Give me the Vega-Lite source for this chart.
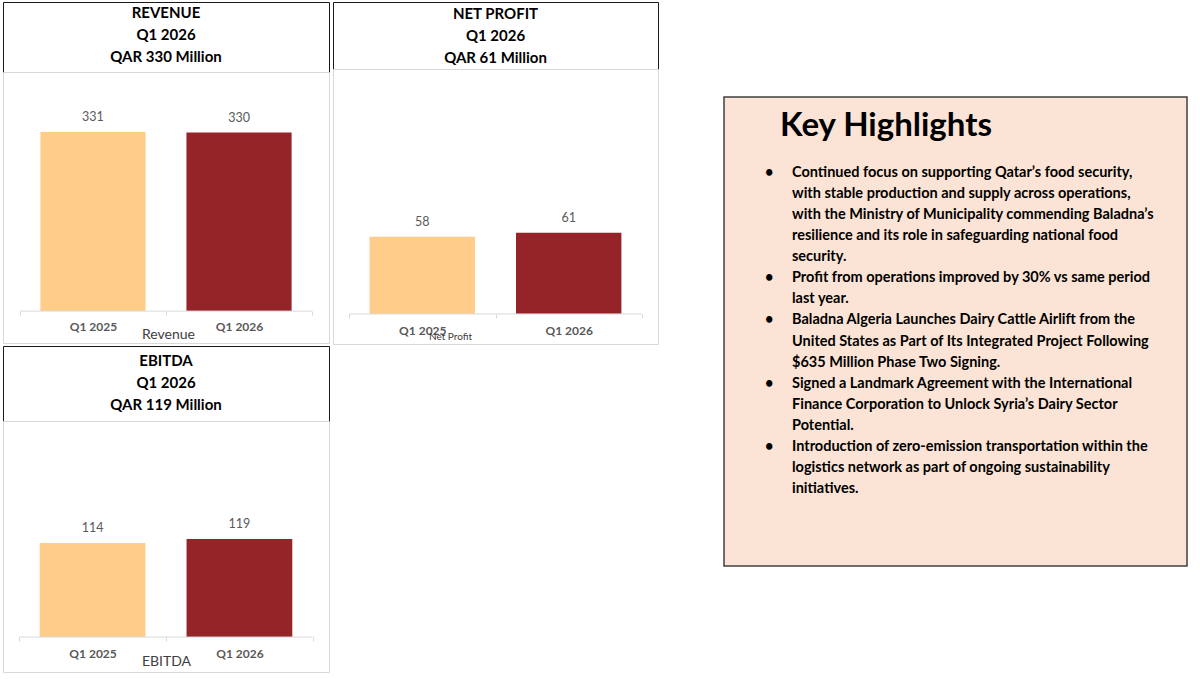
{
  "$schema": "https://vega.github.io/schema/vega-lite/v6.json",
  "padding": {"left": 2, "top": 1, "right": 2, "bottom": 2},
  "config": {"font": "Lato", "view": {"stroke": null}},
  "datasets": {
    "revenue": [{"period": "Q1 2025", "value": 331}, {"period": "Q1 2026", "value": 330}],
    "netprofit": [{"period": "Q1 2025", "value": 58}, {"period": "Q1 2026", "value": 61}],
    "ebitda": [{"period": "Q1 2025", "value": 114}, {"period": "Q1 2026", "value": 119}],
    "highlights": [
      {"line": 0, "part": "bullet", "text": "•"},
      {"line": 5, "part": "bullet", "text": "•"},
      {"line": 7, "part": "bullet", "text": "•"},
      {"line": 10, "part": "bullet", "text": "•"},
      {"line": 13, "part": "bullet", "text": "•"},
      {"line": 0, "part": "text", "text": "Continued focus on supporting Qatar’s food security,"},
      {"line": 1, "part": "text", "text": "with stable production and supply across operations,"},
      {"line": 2, "part": "text", "text": "with the Ministry of Municipality commending Baladna’s"},
      {"line": 3, "part": "text", "text": "resilience and its role in safeguarding national food"},
      {"line": 4, "part": "text", "text": "security."},
      {"line": 5, "part": "text", "text": "Profit from operations improved by 30% vs same period"},
      {"line": 6, "part": "text", "text": "last year."},
      {"line": 7, "part": "text", "text": "Baladna Algeria Launches Dairy Cattle Airlift from the"},
      {"line": 8, "part": "text", "text": "United States as Part of Its Integrated Project Following"},
      {"line": 9, "part": "text", "text": "$635 Million Phase Two Signing."},
      {"line": 10, "part": "text", "text": "Signed a Landmark Agreement with the International"},
      {"line": 11, "part": "text", "text": "Finance Corporation to Unlock Syria’s Dairy Sector"},
      {"line": 12, "part": "text", "text": "Potential."},
      {"line": 13, "part": "text", "text": "Introduction of zero-emission transportation within the"},
      {"line": 14, "part": "text", "text": "logistics network as part of ongoing sustainability"},
      {"line": 15, "part": "text", "text": "initiatives."}
    ]
  },
  "spacing": 64,
  "hconcat": [
    {
      "spacing": 0,
      "vconcat": [
        {
          "spacing": 2,
          "hconcat": [
            {
              "spacing": 0,
              "bounds": "flush",
              "vconcat": [
                {
                  "width": 326, "height": 70,
                  "view": {"stroke": "#1a1a1a", "strokeWidth": 1},
                  "data": {"values": [{"lines": ["REVENUE", "Q1 2026", "QAR 330 Million"]}]},
                  "mark": {"type": "text", "font": "Lato", "fontSize": 15, "fontWeight": "bold", "color": "#000000", "lineHeight": 22, "baseline": "middle", "align": "center", "dy": -24},
                  "encoding": {"text": {"field": "lines"}}
                },
                {
                  "width": 326, "height": 271,
                  "view": {"stroke": "#D9D9D9"},
                  "data": {"name": "revenue"},
                  "layer": [
                    {
                      "mark": {"type": "bar", "width": {"band": 0.72}},
                      "encoding": {
                        "x": {"field": "period", "type": "nominal", "scale": {"paddingInner": 0, "paddingOuter": 0.116},
                          "axis": {"title": "Revenue", "orient": "bottom", "offset": -32, "domain": false, "tickColor": "#D9D9D9", "tickSize": 4, "tickBand": "extent", "labelAngle": 0, "labelFont": "Lato", "labelFontSize": 12, "labelFontWeight": "bold", "labelColor": "#595959", "labelPadding": 6, "titleFont": "Lato", "titleFontSize": 14, "titleFontWeight": "normal", "titleColor": "#404040", "titleBaseline": "middle", "titleY": 23, "titleX": 165}},
                        "y": {"field": "value", "type": "quantitative", "scale": {"domain": [-59, 442], "nice": false, "zero": false}, "axis": null},
                        "y2": {"datum": 0},
                        "color": {"field": "period", "type": "nominal", "scale": {"domain": ["Q1 2025", "Q1 2026"], "range": ["#FFCC89", "#952429"]}, "legend": null}
                      }
                    },
                    {
                      "mark": {"type": "text", "dy": -15, "fontSize": 12.5, "color": "#595959", "baseline": "middle", "font": "Lato"},
                      "encoding": {
                        "x": {"field": "period", "type": "nominal"},
                        "y": {"field": "value", "type": "quantitative"},
                        "text": {"field": "value", "type": "quantitative"}
                      }
                    },
                    {
                      "data": {"values": [{}]},
                      "mark": {"type": "rule", "color": "#D9D9D9", "strokeWidth": 1},
                      "encoding": {
                        "x": {"datum": "Q1 2025", "bandPosition": 0},
                        "x2": {"datum": "Q1 2026", "bandPosition": 1},
                        "y": {"datum": 0, "type": "quantitative"}
                      }
                    }
                  ]
                }
              ]
            },
            {
              "spacing": 0,
              "bounds": "flush",
              "vconcat": [
                {
                  "width": 325, "height": 67,
                  "view": {"stroke": "#1a1a1a", "strokeWidth": 1},
                  "data": {"values": [{"lines": ["NET PROFIT", "Q1 2026", "QAR 61 Million"]}]},
                  "mark": {"type": "text", "font": "Lato", "fontSize": 15, "fontWeight": "bold", "color": "#000000", "lineHeight": 22, "baseline": "middle", "align": "center", "dy": -22},
                  "encoding": {"text": {"field": "lines"}}
                },
                {
                  "width": 325, "height": 275,
                  "view": {"stroke": "#D9D9D9"},
                  "data": {"name": "netprofit"},
                  "layer": [
                    {
                      "mark": {"type": "bar", "width": {"band": 0.72}},
                      "encoding": {
                        "x": {"field": "period", "type": "nominal", "scale": {"paddingInner": 0, "paddingOuter": 0.11},
                          "axis": {"title": "Net Profit", "orient": "bottom", "offset": -30, "domain": false, "tickColor": "#D9D9D9", "tickSize": 4, "tickBand": "extent", "labelAngle": 0, "labelFont": "Lato", "labelFontSize": 12, "labelFontWeight": "bold", "labelColor": "#595959", "labelPadding": 7, "titleFont": "Lato", "titleFontSize": 10, "titleFontWeight": "normal", "titleColor": "#404040", "titleBaseline": "middle", "titleY": 22, "titleX": 117}},
                        "y": {"field": "value", "type": "quantitative", "scale": {"domain": [-22.6, 184.2], "nice": false, "zero": false}, "axis": null},
                        "y2": {"datum": 0},
                        "color": {"field": "period", "type": "nominal", "scale": {"domain": ["Q1 2025", "Q1 2026"], "range": ["#FFCC89", "#952429"]}, "legend": null}
                      }
                    },
                    {
                      "mark": {"type": "text", "dy": -15, "fontSize": 12.5, "color": "#595959", "baseline": "middle", "font": "Lato"},
                      "encoding": {
                        "x": {"field": "period", "type": "nominal"},
                        "y": {"field": "value", "type": "quantitative"},
                        "text": {"field": "value", "type": "quantitative"}
                      }
                    },
                    {
                      "data": {"values": [{}]},
                      "mark": {"type": "rule", "color": "#D9D9D9", "strokeWidth": 1},
                      "encoding": {
                        "x": {"datum": "Q1 2025", "bandPosition": 0},
                        "x2": {"datum": "Q1 2026", "bandPosition": 1},
                        "y": {"datum": 0, "type": "quantitative"}
                      }
                    }
                  ]
                }
              ]
            }
          ]
        },
        {
          "spacing": 0,
          "bounds": "flush",
          "vconcat": [
            {
              "width": 326, "height": 75,
              "view": {"stroke": "#1a1a1a", "strokeWidth": 1},
              "data": {"values": [{"lines": ["EBITDA", "Q1 2026", "QAR 119 Million"]}]},
              "mark": {"type": "text", "font": "Lato", "fontSize": 15, "fontWeight": "bold", "color": "#000000", "lineHeight": 22, "baseline": "middle", "align": "center", "dy": -23},
              "encoding": {"text": {"field": "lines"}}
            },
            {
              "width": 326, "height": 251,
              "view": {"stroke": "#D9D9D9"},
              "data": {"name": "ebitda"},
              "layer": [
                {
                  "mark": {"type": "bar", "width": {"band": 0.72}},
                  "encoding": {
                    "x": {"field": "period", "type": "nominal", "scale": {"paddingInner": 0, "paddingOuter": 0.11},
                      "axis": {"title": "EBITDA", "orient": "bottom", "offset": -35, "domain": false, "tickColor": "#D9D9D9", "tickSize": 4, "tickBand": "extent", "labelAngle": 0, "labelFont": "Lato", "labelFontSize": 12, "labelFontWeight": "bold", "labelColor": "#595959", "labelPadding": 7, "titleFont": "Lato", "titleFontSize": 14, "titleFontWeight": "normal", "titleColor": "#404040", "titleBaseline": "middle", "titleY": 24}},
                    "y": {"field": "value", "type": "quantitative", "scale": {"domain": [-42.4, 262], "nice": false, "zero": false}, "axis": null},
                    "y2": {"datum": 0},
                    "color": {"field": "period", "type": "nominal", "scale": {"domain": ["Q1 2025", "Q1 2026"], "range": ["#FFCC89", "#952429"]}, "legend": null}
                  }
                },
                {
                  "mark": {"type": "text", "dy": -15, "fontSize": 12.5, "color": "#595959", "baseline": "middle", "font": "Lato"},
                  "encoding": {
                    "x": {"field": "period", "type": "nominal"},
                    "y": {"field": "value", "type": "quantitative"},
                    "text": {"field": "value", "type": "quantitative"}
                  }
                },
                {
                  "data": {"values": [{}]},
                  "mark": {"type": "rule", "color": "#D9D9D9", "strokeWidth": 1},
                  "encoding": {
                    "x": {"datum": "Q1 2025", "bandPosition": 0},
                    "x2": {"datum": "Q1 2026", "bandPosition": 1},
                    "y": {"datum": 0, "type": "quantitative"}
                  }
                }
              ]
            }
          ]
        }
      ]
    },
    {
      "spacing": 0,
      "bounds": "flush",
      "vconcat": [
        {
          "width": 463, "height": 95,
          "view": {"fill": "#ffffff"},
          "data": {"values": []},
          "mark": "text",
          "encoding": {}
        },
        {
          "width": 463, "height": 469,
          "view": {"fill": "#FBE4D5", "stroke": "#404040", "strokeWidth": 1.5},
          "title": {"text": "Key Highlights", "anchor": "start", "frame": "group", "dx": 56, "offset": -72, "baseline": "alphabetic", "font": "Lato", "fontSize": 33, "fontWeight": "bold", "color": "#000000"},
          "data": {"name": "highlights"},
          "mark": {"type": "text", "align": "left", "baseline": "middle", "font": "Lato", "fontSize": 14.5, "fontWeight": "bold", "color": "#000000"},
          "encoding": {
            "x": {"field": "part", "type": "nominal", "scale": {"type": "point", "domain": ["bullet", "text"], "range": [41, 68], "padding": 0}, "axis": null},
            "y": {"field": "line", "type": "quantitative", "scale": {"domain": [0, 15], "range": [76, 392]}, "axis": null},
            "text": {"field": "text"}
          }
        }
      ]
    }
  ]
}
